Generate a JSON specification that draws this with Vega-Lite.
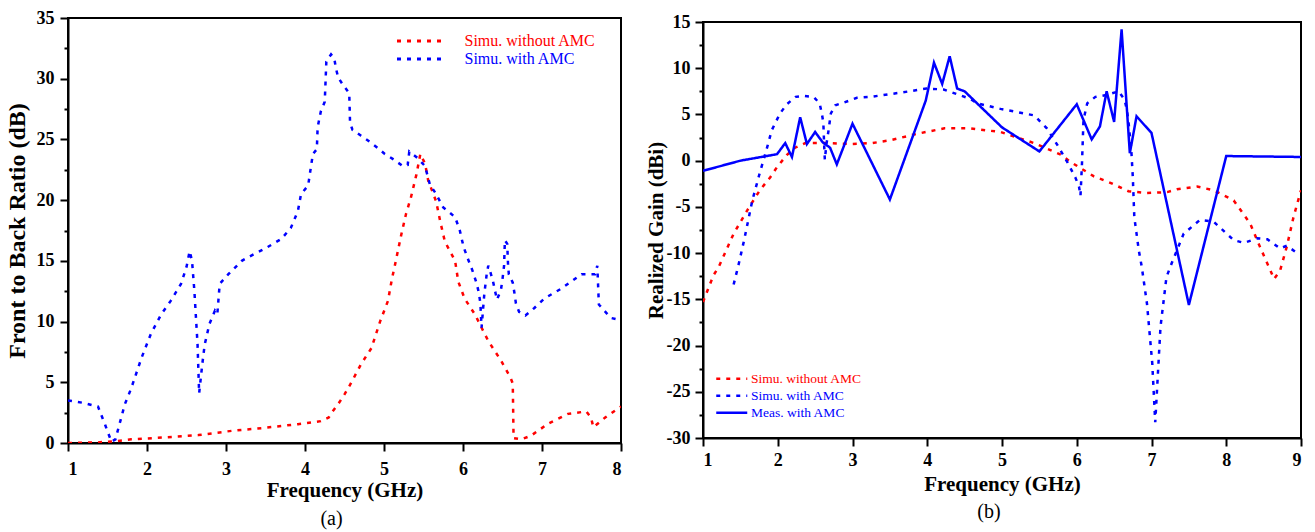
{
  "$schema": "https://vega.github.io/schema/vega-lite/v6.json",
  "background": "white",
  "padding": {"left": 4, "top": 8, "right": 1, "bottom": 2},
  "spacing": 21,
  "resolve": {
    "scale": {"color": "independent", "strokeDash": "independent"},
    "legend": {"color": "independent", "strokeDash": "independent"}
  },
  "config": {
    "view": {"stroke": "black", "strokeWidth": 2},
    "font": "Liberation Serif",
    "axis": {
      "labelFont": "Liberation Serif", "titleFont": "Liberation Serif",
      "labelColor": "black", "titleColor": "black",
      "labelFontWeight": "bold", "titleFontWeight": "bold",
      "labelFontSize": 18, "grid": false,
      "domainColor": "black", "domainWidth": 2,
      "tickColor": "black", "tickWidth": 2
    },
    "legend": {"labelFont": "Liberation Serif"},
    "title": {"font": "Liberation Serif"}
  },
  "datasets": {
    "left": [
      {"s": "Simu. without AMC", "f": 1.0, "v": 0.0},
      {"s": "Simu. without AMC", "f": 1.38, "v": 0.05},
      {"s": "Simu. without AMC", "f": 1.6, "v": 0.15},
      {"s": "Simu. without AMC", "f": 1.8, "v": 0.3},
      {"s": "Simu. without AMC", "f": 2.2, "v": 0.45},
      {"s": "Simu. without AMC", "f": 2.65, "v": 0.65},
      {"s": "Simu. without AMC", "f": 3.07, "v": 1.0},
      {"s": "Simu. without AMC", "f": 3.49, "v": 1.25},
      {"s": "Simu. without AMC", "f": 3.91, "v": 1.55},
      {"s": "Simu. without AMC", "f": 4.2, "v": 1.8},
      {"s": "Simu. without AMC", "f": 4.3, "v": 2.1},
      {"s": "Simu. without AMC", "f": 4.35, "v": 2.6},
      {"s": "Simu. without AMC", "f": 4.42, "v": 3.2},
      {"s": "Simu. without AMC", "f": 4.5, "v": 4.0},
      {"s": "Simu. without AMC", "f": 4.58, "v": 4.9},
      {"s": "Simu. without AMC", "f": 4.71, "v": 6.5},
      {"s": "Simu. without AMC", "f": 4.84, "v": 7.8},
      {"s": "Simu. without AMC", "f": 4.95, "v": 10.0},
      {"s": "Simu. without AMC", "f": 5.05, "v": 11.7},
      {"s": "Simu. without AMC", "f": 5.1, "v": 13.5},
      {"s": "Simu. without AMC", "f": 5.14, "v": 14.7},
      {"s": "Simu. without AMC", "f": 5.22, "v": 17.2},
      {"s": "Simu. without AMC", "f": 5.28, "v": 18.9},
      {"s": "Simu. without AMC", "f": 5.34, "v": 20.2},
      {"s": "Simu. without AMC", "f": 5.41, "v": 22.1},
      {"s": "Simu. without AMC", "f": 5.46, "v": 23.8},
      {"s": "Simu. without AMC", "f": 5.52, "v": 23.0},
      {"s": "Simu. without AMC", "f": 5.56, "v": 21.6},
      {"s": "Simu. without AMC", "f": 5.66, "v": 19.9},
      {"s": "Simu. without AMC", "f": 5.71, "v": 18.3},
      {"s": "Simu. without AMC", "f": 5.77, "v": 16.6},
      {"s": "Simu. without AMC", "f": 5.9, "v": 15.0},
      {"s": "Simu. without AMC", "f": 5.94, "v": 13.3},
      {"s": "Simu. without AMC", "f": 6.02, "v": 11.9},
      {"s": "Simu. without AMC", "f": 6.15, "v": 10.6},
      {"s": "Simu. without AMC", "f": 6.32, "v": 8.4},
      {"s": "Simu. without AMC", "f": 6.48, "v": 6.8},
      {"s": "Simu. without AMC", "f": 6.6, "v": 5.4},
      {"s": "Simu. without AMC", "f": 6.63, "v": 4.9},
      {"s": "Simu. without AMC", "f": 6.64, "v": 0.4},
      {"s": "Simu. without AMC", "f": 6.74, "v": 0.3},
      {"s": "Simu. without AMC", "f": 6.86, "v": 0.6},
      {"s": "Simu. without AMC", "f": 7.08, "v": 1.6},
      {"s": "Simu. without AMC", "f": 7.33, "v": 2.4},
      {"s": "Simu. without AMC", "f": 7.56, "v": 2.6},
      {"s": "Simu. without AMC", "f": 7.62, "v": 2.1},
      {"s": "Simu. without AMC", "f": 7.65, "v": 1.3},
      {"s": "Simu. without AMC", "f": 7.8, "v": 2.1},
      {"s": "Simu. without AMC", "f": 8.0, "v": 3.0},
      {"s": "Simu. with AMC", "f": 1.0, "v": 3.5},
      {"s": "Simu. with AMC", "f": 1.2, "v": 3.3},
      {"s": "Simu. with AMC", "f": 1.38, "v": 3.0},
      {"s": "Simu. with AMC", "f": 1.47, "v": 1.5},
      {"s": "Simu. with AMC", "f": 1.55, "v": 0.1},
      {"s": "Simu. with AMC", "f": 1.6, "v": 0.3},
      {"s": "Simu. with AMC", "f": 1.72, "v": 3.2},
      {"s": "Simu. with AMC", "f": 1.8, "v": 4.5},
      {"s": "Simu. with AMC", "f": 1.93, "v": 7.0},
      {"s": "Simu. with AMC", "f": 2.05, "v": 9.0},
      {"s": "Simu. with AMC", "f": 2.18, "v": 10.6},
      {"s": "Simu. with AMC", "f": 2.3, "v": 11.7},
      {"s": "Simu. with AMC", "f": 2.43, "v": 13.1},
      {"s": "Simu. with AMC", "f": 2.5, "v": 14.5},
      {"s": "Simu. with AMC", "f": 2.54, "v": 15.8},
      {"s": "Simu. with AMC", "f": 2.57, "v": 15.0},
      {"s": "Simu. with AMC", "f": 2.6, "v": 12.5},
      {"s": "Simu. with AMC", "f": 2.64, "v": 8.1},
      {"s": "Simu. with AMC", "f": 2.66, "v": 4.1},
      {"s": "Simu. with AMC", "f": 2.7, "v": 6.5},
      {"s": "Simu. with AMC", "f": 2.73, "v": 8.1},
      {"s": "Simu. with AMC", "f": 2.79, "v": 9.8},
      {"s": "Simu. with AMC", "f": 2.86, "v": 10.9},
      {"s": "Simu. with AMC", "f": 2.89, "v": 10.6},
      {"s": "Simu. with AMC", "f": 2.92, "v": 13.1},
      {"s": "Simu. with AMC", "f": 3.03, "v": 13.9},
      {"s": "Simu. with AMC", "f": 3.2, "v": 15.0},
      {"s": "Simu. with AMC", "f": 3.28, "v": 15.3},
      {"s": "Simu. with AMC", "f": 3.49, "v": 16.0},
      {"s": "Simu. with AMC", "f": 3.7, "v": 16.8},
      {"s": "Simu. with AMC", "f": 3.82, "v": 17.7},
      {"s": "Simu. with AMC", "f": 3.91, "v": 19.1},
      {"s": "Simu. with AMC", "f": 3.95, "v": 20.5},
      {"s": "Simu. with AMC", "f": 4.04, "v": 21.2},
      {"s": "Simu. with AMC", "f": 4.06, "v": 22.1},
      {"s": "Simu. with AMC", "f": 4.1, "v": 23.8},
      {"s": "Simu. with AMC", "f": 4.15, "v": 24.2},
      {"s": "Simu. with AMC", "f": 4.16, "v": 26.0},
      {"s": "Simu. with AMC", "f": 4.2, "v": 27.3},
      {"s": "Simu. with AMC", "f": 4.25, "v": 28.1},
      {"s": "Simu. with AMC", "f": 4.27, "v": 31.4},
      {"s": "Simu. with AMC", "f": 4.33, "v": 32.0},
      {"s": "Simu. with AMC", "f": 4.37, "v": 31.7},
      {"s": "Simu. with AMC", "f": 4.39, "v": 30.9},
      {"s": "Simu. with AMC", "f": 4.42, "v": 30.1},
      {"s": "Simu. with AMC", "f": 4.48, "v": 29.5},
      {"s": "Simu. with AMC", "f": 4.56, "v": 28.8},
      {"s": "Simu. with AMC", "f": 4.57, "v": 26.4},
      {"s": "Simu. with AMC", "f": 4.6, "v": 25.8},
      {"s": "Simu. with AMC", "f": 4.71, "v": 25.3},
      {"s": "Simu. with AMC", "f": 4.82, "v": 24.8},
      {"s": "Simu. with AMC", "f": 4.92, "v": 24.3},
      {"s": "Simu. with AMC", "f": 5.01, "v": 23.8},
      {"s": "Simu. with AMC", "f": 5.11, "v": 23.4},
      {"s": "Simu. with AMC", "f": 5.24, "v": 22.8},
      {"s": "Simu. with AMC", "f": 5.3, "v": 22.9},
      {"s": "Simu. with AMC", "f": 5.32, "v": 24.0},
      {"s": "Simu. with AMC", "f": 5.42, "v": 23.5},
      {"s": "Simu. with AMC", "f": 5.52, "v": 22.8},
      {"s": "Simu. with AMC", "f": 5.58, "v": 21.3},
      {"s": "Simu. with AMC", "f": 5.65, "v": 20.6},
      {"s": "Simu. with AMC", "f": 5.75, "v": 19.4},
      {"s": "Simu. with AMC", "f": 5.9, "v": 18.6},
      {"s": "Simu. with AMC", "f": 5.96, "v": 17.5},
      {"s": "Simu. with AMC", "f": 5.98, "v": 16.9},
      {"s": "Simu. with AMC", "f": 6.01, "v": 16.1},
      {"s": "Simu. with AMC", "f": 6.06, "v": 15.2},
      {"s": "Simu. with AMC", "f": 6.12, "v": 14.2},
      {"s": "Simu. with AMC", "f": 6.17, "v": 13.2},
      {"s": "Simu. with AMC", "f": 6.2, "v": 12.4},
      {"s": "Simu. with AMC", "f": 6.22, "v": 11.5},
      {"s": "Simu. with AMC", "f": 6.235, "v": 9.5},
      {"s": "Simu. with AMC", "f": 6.27, "v": 12.3},
      {"s": "Simu. with AMC", "f": 6.3, "v": 13.9},
      {"s": "Simu. with AMC", "f": 6.32, "v": 14.6},
      {"s": "Simu. with AMC", "f": 6.35, "v": 14.0},
      {"s": "Simu. with AMC", "f": 6.38, "v": 13.3},
      {"s": "Simu. with AMC", "f": 6.41, "v": 12.4},
      {"s": "Simu. with AMC", "f": 6.43, "v": 11.8},
      {"s": "Simu. with AMC", "f": 6.48, "v": 12.6},
      {"s": "Simu. with AMC", "f": 6.5, "v": 13.5},
      {"s": "Simu. with AMC", "f": 6.52, "v": 14.6},
      {"s": "Simu. with AMC", "f": 6.53, "v": 16.7},
      {"s": "Simu. with AMC", "f": 6.56, "v": 16.4},
      {"s": "Simu. with AMC", "f": 6.57, "v": 14.7},
      {"s": "Simu. with AMC", "f": 6.58, "v": 13.9},
      {"s": "Simu. with AMC", "f": 6.63, "v": 13.2},
      {"s": "Simu. with AMC", "f": 6.65, "v": 12.4},
      {"s": "Simu. with AMC", "f": 6.67, "v": 11.5},
      {"s": "Simu. with AMC", "f": 6.71, "v": 10.8},
      {"s": "Simu. with AMC", "f": 6.79, "v": 10.5},
      {"s": "Simu. with AMC", "f": 6.9, "v": 11.1},
      {"s": "Simu. with AMC", "f": 7.03, "v": 11.9},
      {"s": "Simu. with AMC", "f": 7.24, "v": 12.7},
      {"s": "Simu. with AMC", "f": 7.5, "v": 13.9},
      {"s": "Simu. with AMC", "f": 7.67, "v": 13.9},
      {"s": "Simu. with AMC", "f": 7.7, "v": 14.6},
      {"s": "Simu. with AMC", "f": 7.72, "v": 11.4},
      {"s": "Simu. with AMC", "f": 7.87, "v": 10.3},
      {"s": "Simu. with AMC", "f": 8.0, "v": 10.1}
    ],
    "right": [
      {"s": "Simu. without AMC", "f": 1.0, "v": -15.3},
      {"s": "Simu. without AMC", "f": 1.14, "v": -12.4},
      {"s": "Simu. without AMC", "f": 1.21, "v": -11.5},
      {"s": "Simu. without AMC", "f": 1.41, "v": -7.9},
      {"s": "Simu. without AMC", "f": 1.59, "v": -5.4},
      {"s": "Simu. without AMC", "f": 1.76, "v": -3.2},
      {"s": "Simu. without AMC", "f": 1.9, "v": -1.8},
      {"s": "Simu. without AMC", "f": 1.99, "v": -0.7},
      {"s": "Simu. without AMC", "f": 2.12, "v": 0.6},
      {"s": "Simu. without AMC", "f": 2.23, "v": 1.4},
      {"s": "Simu. without AMC", "f": 2.37, "v": 1.9},
      {"s": "Simu. without AMC", "f": 2.5, "v": 1.9},
      {"s": "Simu. without AMC", "f": 2.7, "v": 1.9},
      {"s": "Simu. without AMC", "f": 2.97, "v": 1.8},
      {"s": "Simu. without AMC", "f": 3.26, "v": 1.9},
      {"s": "Simu. without AMC", "f": 3.5, "v": 2.2},
      {"s": "Simu. without AMC", "f": 3.86, "v": 2.9},
      {"s": "Simu. without AMC", "f": 4.23, "v": 3.5},
      {"s": "Simu. without AMC", "f": 4.57, "v": 3.5},
      {"s": "Simu. without AMC", "f": 4.98, "v": 3.1},
      {"s": "Simu. without AMC", "f": 5.43, "v": 1.9},
      {"s": "Simu. without AMC", "f": 5.8, "v": 0.6},
      {"s": "Simu. without AMC", "f": 5.91, "v": -0.1},
      {"s": "Simu. without AMC", "f": 6.03, "v": -0.7},
      {"s": "Simu. without AMC", "f": 6.23, "v": -1.7},
      {"s": "Simu. without AMC", "f": 6.45, "v": -2.4},
      {"s": "Simu. without AMC", "f": 6.69, "v": -3.3},
      {"s": "Simu. without AMC", "f": 6.94, "v": -3.5},
      {"s": "Simu. without AMC", "f": 7.21, "v": -3.4},
      {"s": "Simu. without AMC", "f": 7.34, "v": -3.1},
      {"s": "Simu. without AMC", "f": 7.61, "v": -2.8},
      {"s": "Simu. without AMC", "f": 7.83, "v": -3.2},
      {"s": "Simu. without AMC", "f": 8.1, "v": -4.3},
      {"s": "Simu. without AMC", "f": 8.32, "v": -6.8},
      {"s": "Simu. without AMC", "f": 8.45, "v": -9.3},
      {"s": "Simu. without AMC", "f": 8.57, "v": -11.5},
      {"s": "Simu. without AMC", "f": 8.64, "v": -12.8},
      {"s": "Simu. without AMC", "f": 8.72, "v": -11.9},
      {"s": "Simu. without AMC", "f": 8.81, "v": -9.3},
      {"s": "Simu. without AMC", "f": 8.9, "v": -6.1},
      {"s": "Simu. without AMC", "f": 9.0, "v": -3.2},
      {"s": "Simu. with AMC", "f": 1.41, "v": -13.4},
      {"s": "Simu. with AMC", "f": 1.48, "v": -11.1},
      {"s": "Simu. with AMC", "f": 1.55, "v": -8.6},
      {"s": "Simu. with AMC", "f": 1.66, "v": -4.3},
      {"s": "Simu. with AMC", "f": 1.75, "v": -1.6},
      {"s": "Simu. with AMC", "f": 1.86, "v": 1.5},
      {"s": "Simu. with AMC", "f": 1.92, "v": 3.3},
      {"s": "Simu. with AMC", "f": 2.03, "v": 5.1},
      {"s": "Simu. with AMC", "f": 2.12, "v": 6.1},
      {"s": "Simu. with AMC", "f": 2.24, "v": 6.9},
      {"s": "Simu. with AMC", "f": 2.35, "v": 7.0},
      {"s": "Simu. with AMC", "f": 2.48, "v": 6.9},
      {"s": "Simu. with AMC", "f": 2.56, "v": 6.2},
      {"s": "Simu. with AMC", "f": 2.59, "v": 5.1},
      {"s": "Simu. with AMC", "f": 2.61, "v": 4.1},
      {"s": "Simu. with AMC", "f": 2.615, "v": 3.0},
      {"s": "Simu. with AMC", "f": 2.62, "v": 1.9},
      {"s": "Simu. with AMC", "f": 2.625, "v": 0.9},
      {"s": "Simu. with AMC", "f": 2.63, "v": 0.1},
      {"s": "Simu. with AMC", "f": 2.65, "v": 1.7},
      {"s": "Simu. with AMC", "f": 2.68, "v": 3.3},
      {"s": "Simu. with AMC", "f": 2.71, "v": 5.1},
      {"s": "Simu. with AMC", "f": 2.77, "v": 6.0},
      {"s": "Simu. with AMC", "f": 2.89, "v": 6.3},
      {"s": "Simu. with AMC", "f": 3.06, "v": 6.8},
      {"s": "Simu. with AMC", "f": 3.24, "v": 6.9},
      {"s": "Simu. with AMC", "f": 3.68, "v": 7.4},
      {"s": "Simu. with AMC", "f": 3.99, "v": 7.8},
      {"s": "Simu. with AMC", "f": 4.22, "v": 7.7},
      {"s": "Simu. with AMC", "f": 4.57, "v": 6.7},
      {"s": "Simu. with AMC", "f": 4.67, "v": 6.2},
      {"s": "Simu. with AMC", "f": 4.98, "v": 5.6},
      {"s": "Simu. with AMC", "f": 5.43, "v": 4.9},
      {"s": "Simu. with AMC", "f": 5.6, "v": 3.5},
      {"s": "Simu. with AMC", "f": 5.74, "v": 1.7},
      {"s": "Simu. with AMC", "f": 5.87, "v": -0.1},
      {"s": "Simu. with AMC", "f": 5.98, "v": -1.8},
      {"s": "Simu. with AMC", "f": 6.03, "v": -2.8},
      {"s": "Simu. with AMC", "f": 6.05, "v": -3.8},
      {"s": "Simu. with AMC", "f": 6.07, "v": -0.3},
      {"s": "Simu. with AMC", "f": 6.09, "v": 4.4},
      {"s": "Simu. with AMC", "f": 6.14, "v": 6.2},
      {"s": "Simu. with AMC", "f": 6.25, "v": 6.9},
      {"s": "Simu. with AMC", "f": 6.4, "v": 7.1},
      {"s": "Simu. with AMC", "f": 6.56, "v": 7.5},
      {"s": "Simu. with AMC", "f": 6.64, "v": 6.6},
      {"s": "Simu. with AMC", "f": 6.67, "v": 5.5},
      {"s": "Simu. with AMC", "f": 6.69, "v": 4.4},
      {"s": "Simu. with AMC", "f": 6.73, "v": 1.1},
      {"s": "Simu. with AMC", "f": 6.75, "v": -1.8},
      {"s": "Simu. with AMC", "f": 6.77, "v": -6.1},
      {"s": "Simu. with AMC", "f": 6.83, "v": -9.7},
      {"s": "Simu. with AMC", "f": 6.87, "v": -11.5},
      {"s": "Simu. with AMC", "f": 6.94, "v": -15.5},
      {"s": "Simu. with AMC", "f": 7.01, "v": -21.9},
      {"s": "Simu. with AMC", "f": 7.05, "v": -28.3},
      {"s": "Simu. with AMC", "f": 7.12, "v": -18.0},
      {"s": "Simu. with AMC", "f": 7.2, "v": -12.6},
      {"s": "Simu. with AMC", "f": 7.27, "v": -11.1},
      {"s": "Simu. with AMC", "f": 7.43, "v": -7.9},
      {"s": "Simu. with AMC", "f": 7.65, "v": -6.4},
      {"s": "Simu. with AMC", "f": 7.83, "v": -6.6},
      {"s": "Simu. with AMC", "f": 8.1, "v": -8.6},
      {"s": "Simu. with AMC", "f": 8.24, "v": -8.9},
      {"s": "Simu. with AMC", "f": 8.41, "v": -8.4},
      {"s": "Simu. with AMC", "f": 8.55, "v": -8.5},
      {"s": "Simu. with AMC", "f": 8.72, "v": -9.5},
      {"s": "Simu. with AMC", "f": 8.81, "v": -9.2},
      {"s": "Simu. with AMC", "f": 8.95, "v": -10.0},
      {"s": "Meas. with AMC", "f": 1.0, "v": -1.1},
      {"s": "Meas. with AMC", "f": 1.5, "v": 0.0},
      {"s": "Meas. with AMC", "f": 1.99, "v": 0.7},
      {"s": "Meas. with AMC", "f": 2.1, "v": 1.9},
      {"s": "Meas. with AMC", "f": 2.19, "v": 0.4},
      {"s": "Meas. with AMC", "f": 2.3, "v": 4.7},
      {"s": "Meas. with AMC", "f": 2.39, "v": 1.8},
      {"s": "Meas. with AMC", "f": 2.5, "v": 3.1},
      {"s": "Meas. with AMC", "f": 2.6, "v": 2.0},
      {"s": "Meas. with AMC", "f": 2.7, "v": 1.4},
      {"s": "Meas. with AMC", "f": 2.79, "v": -0.4},
      {"s": "Meas. with AMC", "f": 3.0, "v": 4.0},
      {"s": "Meas. with AMC", "f": 3.5, "v": -4.2},
      {"s": "Meas. with AMC", "f": 3.98, "v": 6.5},
      {"s": "Meas. with AMC", "f": 4.09, "v": 10.6},
      {"s": "Meas. with AMC", "f": 4.2, "v": 8.3},
      {"s": "Meas. with AMC", "f": 4.3, "v": 11.3},
      {"s": "Meas. with AMC", "f": 4.4, "v": 7.8},
      {"s": "Meas. with AMC", "f": 4.5, "v": 7.5},
      {"s": "Meas. with AMC", "f": 5.0, "v": 3.6},
      {"s": "Meas. with AMC", "f": 5.5, "v": 1.0},
      {"s": "Meas. with AMC", "f": 6.0, "v": 6.1},
      {"s": "Meas. with AMC", "f": 6.2, "v": 2.3},
      {"s": "Meas. with AMC", "f": 6.31, "v": 3.7},
      {"s": "Meas. with AMC", "f": 6.4, "v": 7.5},
      {"s": "Meas. with AMC", "f": 6.5, "v": 4.2},
      {"s": "Meas. with AMC", "f": 6.6, "v": 14.2},
      {"s": "Meas. with AMC", "f": 6.71, "v": 0.8},
      {"s": "Meas. with AMC", "f": 6.8, "v": 4.8},
      {"s": "Meas. with AMC", "f": 7.0, "v": 3.0},
      {"s": "Meas. with AMC", "f": 7.5, "v": -15.6},
      {"s": "Meas. with AMC", "f": 8.0, "v": 0.5},
      {"s": "Meas. with AMC", "f": 9.0, "v": 0.4}
    ]
  },
  "hconcat": [
    {
      "width": 553,
      "height": 425,
      "title": {"text": "(a)", "orient": "bottom", "fontSize": 20, "fontWeight": "normal", "color": "black", "dx": -13, "offset": 9},
      "data": {"name": "left"},
      "mark": {"type": "line", "strokeWidth": 2.5, "clip": true},
      "encoding": {
        "x": {
          "field": "f", "type": "quantitative",
          "scale": {"domain": [1, 8], "nice": false, "zero": false},
          "axis": {
            "title": "Frequency (GHz)", "titleFontSize": 21, "titlePadding": 1,
            "values": [1, 1.5, 2, 2.5, 3, 3.5, 4, 4.5, 5, 5.5, 6, 6.5, 7, 7.5, 8],
            "format": "d",
            "labelExpr": "datum.value % 1 === 0 ? datum.label : ''",
            "tickSize": {"condition": {"test": "datum.value % 1 === 0", "value": 8}, "value": 4},
            "labelPadding": 9
          }
        },
        "y": {
          "field": "v", "type": "quantitative",
          "scale": {"domain": [0, 35], "nice": false, "zero": false},
          "axis": {
            "title": "Front to Back Ratio (dB)", "titleFontSize": 24, "titlePadding": 6.3,
            "values": [0, 2.5, 5, 7.5, 10, 12.5, 15, 17.5, 20, 22.5, 25, 27.5, 30, 32.5, 35],
            "format": "d",
            "labelExpr": "datum.value % 5 === 0 ? datum.label : ''",
            "tickSize": {"condition": {"test": "datum.value % 5 === 0", "value": 8}, "value": 4},
            "labelPadding": 6
          }
        },
        "color": {
          "field": "s", "type": "nominal",
          "scale": {"domain": ["Simu. without AMC", "Simu. with AMC"], "range": ["#ff0000", "#0000ff"]},
          "legend": {
            "orient": "none", "legendX": 346, "legendY": 15, "title": null, "padding": 0,
            "symbolType": "M-5,0H5", "symbolSize": 100, "symbolStrokeWidth": 3,
            "labelFontSize": 16, "labelOffset": 34.5, "rowPadding": 2,
            "encode": {
              "labels": {"update": {"fill": {"signal": "datum.value === 'Simu. without AMC' ? '#ff0000' : '#0000ff'"}}},
              "symbols": {"update": {"strokeDash": {"value": [7, 14]}}}
            }
          }
        },
        "strokeDash": {
          "field": "s", "type": "nominal",
          "scale": {"domain": ["Simu. without AMC", "Simu. with AMC"], "range": [[4, 6], [4, 6]]},
          "legend": null
        }
      }
    },
    {
      "spacing": -7,
      "resolve": {
        "scale": {"color": "independent", "strokeDash": "independent"},
        "legend": {"color": "independent", "strokeDash": "independent"}
      },
      "vconcat": [
        {
          "width": 598,
          "height": 1,
          "view": {"stroke": null},
          "data": {"values": [{"d": 0}]},
          "mark": {"type": "point", "size": 0, "opacity": 0}
        },
        {
          "width": 598,
          "height": 416,
          "title": {"text": "(b)", "orient": "bottom", "fontSize": 20, "fontWeight": "normal", "color": "black", "dx": -13, "offset": 8},
          "data": {"name": "right"},
          "mark": {"type": "line", "strokeWidth": 2.5, "clip": true},
          "encoding": {
            "x": {
              "field": "f", "type": "quantitative",
              "scale": {"domain": [1, 9], "nice": false, "zero": false},
              "axis": {
                "title": "Frequency (GHz)", "titleFontSize": 21, "titlePadding": 4,
                "values": [1, 1.5, 2, 2.5, 3, 3.5, 4, 4.5, 5, 5.5, 6, 6.5, 7, 7.5, 8, 8.5, 9],
                "format": "d",
                "labelExpr": "datum.value % 1 === 0 ? datum.label : ''",
                "tickSize": {"condition": {"test": "datum.value % 1 === 0", "value": 8}, "value": 4},
                "labelPadding": 5
              }
            },
            "y": {
              "field": "v", "type": "quantitative",
              "scale": {"domain": [-30, 15], "nice": false, "zero": false},
              "axis": {
                "title": "Realized Gain (dBi)", "titleFontSize": 21, "titlePadding": 0,
                "values": [-30, -27.5, -25, -22.5, -20, -17.5, -15, -12.5, -10, -7.5, -5, -2.5, 0, 2.5, 5, 7.5, 10, 12.5, 15],
                "format": "d",
                "labelExpr": "datum.value % 5 === 0 ? replace(datum.label, '\u2212', '-') : ''",
                "tickSize": {"condition": {"test": "datum.value % 5 === 0", "value": 8}, "value": 4},
                "labelPadding": 5
              }
            },
            "color": {
              "field": "s", "type": "nominal",
              "scale": {"domain": ["Simu. without AMC", "Simu. with AMC", "Meas. with AMC"], "range": ["#ff0000", "#0000ff", "#0000ff"]},
              "legend": {
                "orient": "none", "legendX": 22, "legendY": 350, "title": null, "padding": 0,
                "symbolType": "M-3.1,0H3.1", "symbolSize": 100, "symbolStrokeWidth": 2.5,
                "labelFontSize": 13.5, "labelOffset": 12.5, "rowPadding": 2,
                "encode": {
                  "labels": {"update": {"fill": {"signal": "datum.value === 'Simu. without AMC' ? '#ff0000' : '#0000ff'"}}}
                }
              }
            },
            "strokeDash": {
              "field": "s", "type": "nominal",
              "scale": {"domain": ["Simu. without AMC", "Simu. with AMC", "Meas. with AMC"], "range": [[4, 6], [4, 6], [1, 0]]},
              "legend": null
            }
          }
        }
      ]
    }
  ]
}
